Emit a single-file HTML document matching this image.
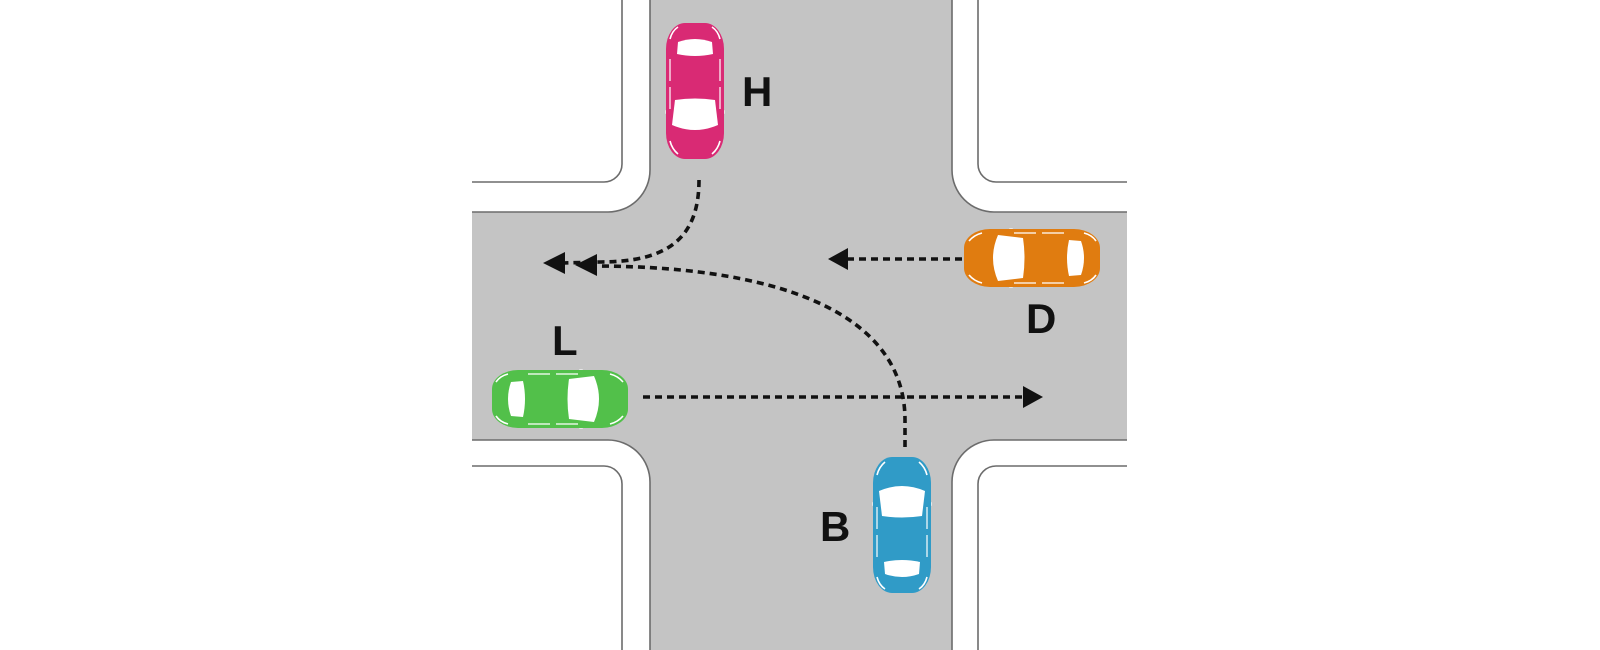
<!DOCTYPE html>
<html>
<head>
<meta charset="utf-8">
<style>
html,body{margin:0;padding:0;background:#fff;}
svg{display:block;}
text{font-family:"Liberation Sans",sans-serif;font-weight:bold;font-size:42px;fill:#111;}
</style>
</head>
<body>
<svg width="1600" height="650" viewBox="0 0 1600 650" xmlns="http://www.w3.org/2000/svg">
<defs>
<symbol id="car" viewBox="0 0 60 136">
  <ellipse cx="1" cy="47" rx="3.5" ry="1.8" fill="#e6e6e6"/>
  <ellipse cx="59" cy="47" rx="3.5" ry="1.8" fill="#e6e6e6"/>
  <rect x="1" y="0" width="58" height="136" rx="19" ry="26" fill="currentColor"/>
  <path d="M7,34 Q30,24 53,34 L50,59 Q30,62 10,59 Z" fill="#fff"/>
  <path d="M12,105 Q30,101 48,105 L47,117 Q30,123 13,117 Z" fill="#fff"/>
  <path d="M5,18 Q7,10 13,5" stroke="#fff" stroke-width="1.6" fill="none"/>
  <path d="M55,18 Q53,10 47,5" stroke="#fff" stroke-width="1.6" fill="none"/>
  <path d="M5,120 Q7,128 13,132" stroke="#fff" stroke-width="1.6" fill="none"/>
  <path d="M55,120 Q53,128 47,132" stroke="#fff" stroke-width="1.6" fill="none"/>
  <path d="M5,50 L5,72 M5,78 L5,100" stroke="#fff" stroke-width="1.2" fill="none"/>
  <path d="M55,50 L55,72 M55,78 L55,100" stroke="#fff" stroke-width="1.2" fill="none"/>
</symbol>
</defs>

<rect x="0" y="0" width="1600" height="650" fill="#fff"/>
<rect x="472" y="0" width="655" height="650" fill="#c4c4c4"/>

<!-- corner blocks -->
<g fill="#fff">
  <path d="M472,0 H650 V170 A42,42 0 0 1 608,212 H472 Z"/>
  <path d="M952,0 V170 A42,42 0 0 0 994,212 H1127 V0 Z"/>
  <path d="M472,440 H608 A42,42 0 0 1 650,482 V650 H472 Z"/>
  <path d="M1127,440 H994 A42,42 0 0 0 952,482 V650 H1127 Z"/>
</g>
<g fill="none" stroke="#6c6c6c" stroke-width="1.6">
  <path d="M650,0 V170 A42,42 0 0 1 608,212 H472"/>
  <path d="M622,0 V164 A18,18 0 0 1 604,182 H472"/>
  <path d="M952,0 V170 A42,42 0 0 0 994,212 H1127"/>
  <path d="M978,0 V164 A18,18 0 0 0 996,182 H1127"/>
  <path d="M472,440 H608 A42,42 0 0 1 650,482 V650"/>
  <path d="M472,466 H604 A18,18 0 0 1 622,484 V650"/>
  <path d="M1127,440 H994 A42,42 0 0 0 952,482 V650"/>
  <path d="M1127,466 H996 A18,18 0 0 0 978,484 V650"/>
</g>

<!-- dashed paths -->
<g fill="none" stroke="#111" stroke-width="3.6" stroke-dasharray="7 5">
  <path d="M699,180 C699,238 668,262 600,262 L563,263"/>
  <path d="M905,447 L905,420 C905,318 790,267 598,266"/>
  <path d="M962,259 L847,259"/>
  <path d="M643,397 L1025,397"/>
</g>
<g fill="#111">
  <polygon points="543,263 565,252 565,274"/>
  <polygon points="575,265 597,254 597,276"/>
  <polygon points="828,259 848,248 848,270"/>
  <polygon points="1043,397 1023,386 1023,408"/>
</g>

<!-- cars -->
<use href="#car" width="60" height="136" transform="translate(725,159) rotate(180)" style="color:#d92a74"/>
<use href="#car" width="60" height="136" transform="translate(872,457)" style="color:#309bc7"/>
<use href="#car" width="60" height="136" transform="translate(964,288) rotate(-90)" style="color:#e07c10"/>
<use href="#car" width="60" height="136" transform="translate(628,369) rotate(90)" style="color:#52c04a"/>

<!-- labels -->
<text x="742" y="106">H</text>
<text x="552" y="355">L</text>
<text x="1026" y="333">D</text>
<text x="820" y="541">B</text>
</svg>
</body>
</html>
